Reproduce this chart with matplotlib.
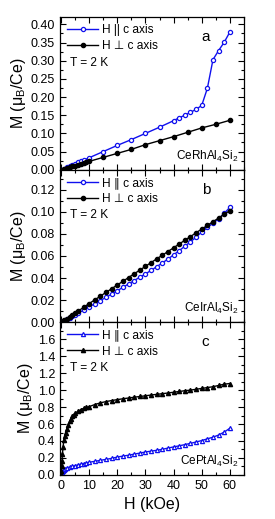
import numpy as np
import matplotlib
matplotlib.use("Agg")
import matplotlib.pyplot as plt
from matplotlib.ticker import MultipleLocator, FormatStrFormatter

plt.rcParams['font.family'] = ['Liberation Sans', 'DejaVu Sans']
plt.rcParams['mathtext.fontset'] = 'custom'
plt.rcParams['mathtext.rm'] = 'Liberation Sans'
plt.rcParams['mathtext.it'] = 'Liberation Sans'

# --- panel a : CeRhAl4Si2
a_par_x = [0, 1, 2, 3, 4, 5, 6, 7, 8, 10, 15, 20, 25, 30, 35, 40, 42, 44, 46, 48, 50, 52, 54, 56, 58, 60]
a_par_y = [0, 0.003, 0.0066, 0.010, 0.013, 0.0165, 0.020, 0.023, 0.026, 0.033, 0.050, 0.067, 0.083,
           0.100, 0.117, 0.135, 0.143, 0.150, 0.158, 0.166, 0.177, 0.224, 0.303, 0.328, 0.351, 0.379]
a_perp_x = [0, 1, 2, 3, 4, 5, 6, 7, 8, 9, 10, 15, 20, 25, 30, 35, 40, 45, 50, 55, 60]
a_perp_y = [0, 0.0023, 0.0046, 0.0069, 0.0092, 0.0115, 0.0138, 0.016, 0.0183, 0.0206, 0.023,
            0.034, 0.045, 0.056, 0.069, 0.080, 0.091, 0.103, 0.115, 0.125, 0.136]

# --- panel b : CeIrAl4Si2
b_x = [0, 1, 2, 3, 4, 5, 6, 8, 10, 12, 14, 16, 18, 20, 22, 24, 26, 28, 30, 32, 34, 36, 38,
       40, 42, 44, 46, 48, 50, 52, 54, 56, 58, 60]
b_par_y = [0, 0.0013, 0.0027, 0.004, 0.0054, 0.0068, 0.0082, 0.011, 0.0139, 0.0168, 0.0197,
           0.0226, 0.0256, 0.0286, 0.0316, 0.0347, 0.0378, 0.0408, 0.0437, 0.047, 0.0503, 0.0537,
           0.0572, 0.061, 0.0648, 0.0688, 0.0728, 0.077, 0.0817, 0.0858, 0.0897, 0.0935, 0.0985, 0.104]
b_perp_y = [0, 0.0017, 0.0034, 0.005, 0.0067, 0.0084, 0.010, 0.0135, 0.017, 0.0203, 0.0237,
            0.0271, 0.0304, 0.0338, 0.0371, 0.0405, 0.0439, 0.0472, 0.0506, 0.054, 0.0574, 0.0607,
            0.064, 0.0674, 0.0708, 0.0742, 0.0775, 0.081, 0.0843, 0.0876, 0.091, 0.0943, 0.0977, 0.101]

# --- panel c : CePtAl4Si2
c_par_x = [0, 0.3, 0.6, 1, 1.5, 2, 3, 4, 5, 6, 7, 8, 9, 10, 12, 14, 16, 18, 20, 22, 24, 26, 28,
           30, 32, 34, 36, 38, 40, 42, 44, 46, 48, 50, 52, 54, 56, 58, 60]
c_par_y = [0.02, 0.035, 0.05, 0.06, 0.072, 0.08, 0.092, 0.102, 0.11, 0.118, 0.126, 0.134, 0.141,
           0.149, 0.16, 0.172, 0.183, 0.195, 0.21, 0.222, 0.232, 0.245, 0.257, 0.27, 0.28, 0.29,
           0.302, 0.316, 0.33, 0.343, 0.357, 0.372, 0.388, 0.405, 0.425, 0.445, 0.47, 0.505, 0.55]
c_perp_x = [0, 0.1, 0.2, 0.3, 0.5, 0.7, 1, 1.3, 1.6, 2, 2.5, 3, 3.5, 4, 4.5, 5, 6, 7, 8, 9, 10,
            12, 14, 16, 18, 20, 22, 24, 26, 28, 30, 32, 34, 36, 38, 40, 42, 44, 46, 48, 50,
            52, 54, 56, 58, 60]
c_perp_y = [0, 0.04, 0.1, 0.16, 0.25, 0.33, 0.41, 0.46, 0.5, 0.54, 0.59, 0.63, 0.66, 0.69, 0.71,
            0.725, 0.75, 0.77, 0.785, 0.795, 0.805, 0.83, 0.85, 0.865, 0.877, 0.888, 0.898, 0.907,
            0.916, 0.925, 0.933, 0.942, 0.95, 0.958, 0.966, 0.975, 0.984, 0.993, 1.0, 1.01, 1.02,
            1.03, 1.04, 1.055, 1.07, 1.078]

fig = plt.figure(figsize=(2.75, 5.19), dpi=100)
axs = fig.subplots(3, 1, sharex=True, gridspec_kw=dict(hspace=0))
fig.subplots_adjust(left=0.218, right=0.887, bottom=0.085, top=0.967)

panels = [
    dict(ax=axs[0], par=(a_par_x, a_par_y), perp=(a_perp_x, a_perp_y), pm='o', km='o',
         ylim=0.42, major=0.05, fmt='%.2f', letter='a', name='CeRhAl$_4$Si$_2$', par_lab='H || c axis'),
    dict(ax=axs[1], par=(b_x, b_par_y), perp=(b_x, b_perp_y), pm='o', km='o',
         ylim=0.138, major=0.02, fmt='%.2f', letter='b', name='CeIrAl$_4$Si$_2$', par_lab='H \u2225 c axis'),
    dict(ax=axs[2], par=(c_par_x, c_par_y), perp=(c_perp_x, c_perp_y), pm='^', km='^',
         ylim=1.8, major=0.2, fmt='%.1f', letter='c', name='CePtAl$_4$Si$_2$', par_lab='H \u2225 c axis'),
]

for p in panels:
    ax = p['ax']
    ax.plot(*p['par'], color='#1010ee', lw=1.0, marker=p['pm'], ms=3.0, mfc='white',
            mec='#1010ee', mew=0.9, label=p['par_lab'])
    ax.plot(*p['perp'], color='black', lw=1.0, marker=p['km'], ms=3.0, label='H \u22a5 c axis')
    ax.set_xlim(-0.4, 65)
    ax.set_ylim(0, p['ylim'])
    ax.yaxis.set_major_locator(MultipleLocator(p['major']))
    ax.yaxis.set_minor_locator(MultipleLocator(p['major'] / 2))
    ax.yaxis.set_major_formatter(FormatStrFormatter(p['fmt']))
    ax.xaxis.set_major_locator(MultipleLocator(10))
    ax.xaxis.set_minor_locator(MultipleLocator(5))
    ax.tick_params(which='both', direction='in', top=True, right=True, labelsize=9, width=0.8)
    ax.tick_params(which='major', length=4.5)
    ax.tick_params(which='minor', length=2.5)
    for s in ax.spines.values():
        s.set_linewidth(0.9)
    ax.set_ylabel('M (\u03bc$_B$/Ce)', fontsize=11.5, labelpad=2)
    ax.legend(loc='upper left', frameon=False, fontsize=8.6, handlelength=2.6, handletextpad=0.3,
              borderaxespad=0.2, labelspacing=0.35, bbox_to_anchor=(0.0, 1.0))
    ax.text(0.055, 0.70, 'T = 2 K', transform=ax.transAxes, fontsize=8.6, va='center')
    ax.text(0.77, 0.87, p['letter'], transform=ax.transAxes, fontsize=11, va='center')
    ax.text(0.97, 0.09, p['name'], transform=ax.transAxes, fontsize=8.5, ha='right', va='center')

axs[1].set_yticks([0, 0.02, 0.04, 0.06, 0.08, 0.10, 0.12])
axs[2].set_yticks([0, 0.2, 0.4, 0.6, 0.8, 1.0, 1.2, 1.4, 1.6])
axs[2].set_xticks([0, 10, 20, 30, 40, 50, 60])
axs[2].set_xlabel('H (kOe)', fontsize=11.5)

fig.savefig('out.png', dpi=100)
